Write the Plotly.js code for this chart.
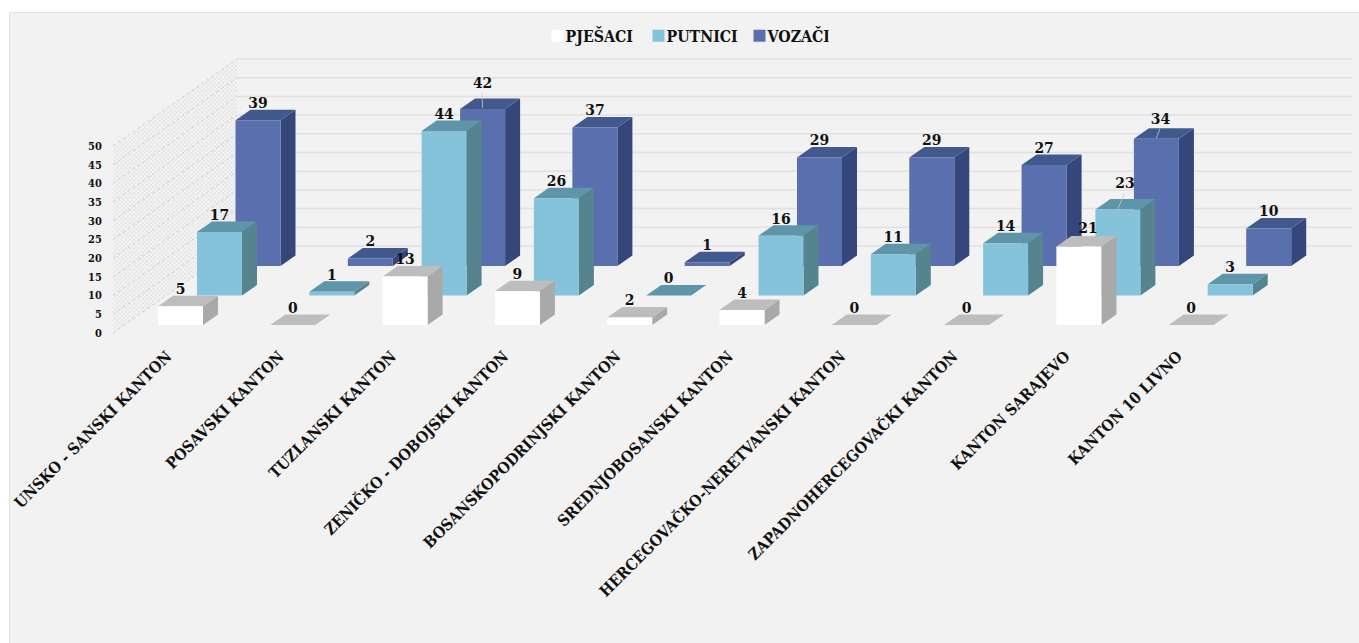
<!DOCTYPE html>
<html>
<head>
<meta charset="utf-8">
<script src="https://cdn.plot.ly/plotly-3.0.1.min.js"></script>
<style>html,body{margin:0;padding:0;background:#fff}#c{width:1359px;height:643px}</style>
</head>
<body>
<div id="c"></div>
<script>
// ---- data ----
const categories = ["UNSKO - SANSKI KANTON","POSAVSKI KANTON","TUZLANSKI KANTON","ZENIČKO - DOBOJSKI KANTON","BOSANSKOPODRINJSKI KANTON","SREDNJOBOSANSKI KANTON","HERCEGOVAČKO-NERETVANSKI KANTON","ZAPADNOHERCEGOVAČKI KANTON","KANTON SARAJEVO","KANTON 10 LIVNO"];
const pjesaci = [5,0,13,9,2,4,0,0,21,0];
const putnici = [17,1,44,26,0,16,11,14,23,3];
const vozaci  = [39,2,42,37,1,29,29,27,34,10];
const valueTicks = [0,5,10,15,20,25,30,35,40,45,50];

// ---- projection / style ----
const L=113,R=1352,T=15,B=338,W=1359,H=643;
const xUnit=112.3, yUnit=3.74, tick0=167;
const xr0=-(tick0-L)/xUnit, xr1=xr0+(R-L)/xUnit;
const yr0=(333-B)/yUnit, yr1=(333-T)/yUnit;
const barW=45/xUnit, sideX=15/xUnit, sideY=10.5/yUnit;
const wallX=(237-tick0)/xUnit, wallD=87/yUnit;
const labelGap=16/yUnit;
const FONT="'DejaVu Serif Condensed', 'DejaVu Serif', serif";

const series=[
 {name:"VOZAČI", vals:vozaci, dx:(235.5-tick0)/xUnit, base:67/yUnit, front:"#5a70ae", top:"#41598c", side:"#34467a", nudge:{2:[0,9],8:[4,3]}},
 {name:"PUTNICI",vals:putnici,dx:(197-tick0)/xUnit,   base:37.5/yUnit,front:"#85c3da", top:"#5f95a9", side:"#55848f", nudge:{8:[7,9]}},
 {name:"PJEŠACI",vals:pjesaci,dx:(158-tick0)/xUnit,   base:8/yUnit,  front:"#ffffff", top:"#bdbdbd", side:"#a9a9a9", nudge:{8:[9,1]}},
];

const traces=[];
// walls
traces.push({type:"scatter",mode:"none",x:[xr0,wallX,wallX,xr0,xr0],y:[0,wallD,50+wallD,50,0],fill:"toself",
  fillcolor:"#f4f4f4",fillpattern:{shape:"x",size:3,solidity:0.3,fgcolor:"#d2d2d2",bgcolor:"#f5f5f5"},showlegend:false,hoverinfo:"skip"});
const sx=[],sy=[];
valueTicks.forEach(v=>{sx.push(xr0,wallX,null);sy.push(v,v+wallD,null);});
traces.push({type:"scatter",mode:"lines",x:sx,y:sy,line:{color:"#cfcfcf",width:1,dash:"dot"},showlegend:false,hoverinfo:"skip"});
const gx=[],gy=[];
valueTicks.forEach(v=>{gx.push(wallX,xr1,null);gy.push(v+wallD,v+wallD,null);});
traces.push({type:"scatter",mode:"lines",x:gx,y:gy,line:{color:"#e0e0e0",width:1.5},showlegend:false,hoverinfo:"skip"});

function facePoly(s,kind){
  const xs=[],ys=[];
  s.vals.forEach((v,i)=>{
    const x=i+s.dx,b=s.base;
    let px,py;
    if(kind==="front"){px=[x,x+barW,x+barW,x,x];py=[b,b,b+v,b+v,b];}
    if(kind==="side"){px=[x+barW,x+barW+sideX,x+barW+sideX,x+barW,x+barW];py=[b,b+sideY,b+v+sideY,b+v,b];}
    if(kind==="top"){px=[x,x+barW,x+barW+sideX,x+sideX,x];py=[b+v,b+v,b+v+sideY,b+v+sideY,b+v];}
    xs.push(...px,null);ys.push(...py,null);
  });
  return {xs,ys};
}
series.forEach(s=>{
  ["side","top","front"].forEach(kind=>{
    const p=facePoly(s,kind);
    traces.push({type:"scatter",mode:"none",x:p.xs,y:p.ys,fill:"toself",fillcolor:s[kind],showlegend:false,hoverinfo:"skip"});
  });
});
// leader lines
const lx=[],ly=[];
series.forEach(s=>{
  Object.keys(s.nudge).forEach(k=>{
    const i=+k,v=s.vals[i],n=s.nudge[k];
    if(n[1]<3) return;
    const cx=i+s.dx+barW/2, top=s.base+v;
    lx.push(cx+(n[0]-0.5)/xUnit,cx,null);
    ly.push(top+(labelGap+n[1]/yUnit-9/yUnit),top+0.2,null);
  });
});
traces.push({type:"scatter",mode:"lines",x:lx,y:ly,line:{color:"#c9c9c9",width:0.8},showlegend:false,hoverinfo:"skip"});
// data labels
series.forEach(s=>{
  traces.push({type:"scatter",mode:"text",
    x:s.vals.map((v,i)=>i+s.dx+barW/2+((s.nudge[i]||[0,0])[0])/xUnit),
    y:s.vals.map((v,i)=>s.base+v+labelGap+((s.nudge[i]||[0,0])[1])/yUnit),
    text:s.vals.map(String),textposition:"middle center",
    textfont:{family:FONT,size:15.5,color:"#111",weight:700},showlegend:false,hoverinfo:"skip"});
});
// legend entries
[series[2],series[1],series[0]].forEach(s=>{
  traces.push({type:"scatter",mode:"markers",x:[null],y:[null],name:s.name,
    marker:{symbol:"square",size:10,color:s.front},showlegend:true});
});

const px2x=p=>(p-L)/(R-L), py2y=p=>(B-p)/(B-T);
const layout={
  width:W,height:H,margin:{l:L,r:W-R,t:T,b:H-B,pad:0},
  paper_bgcolor:"#ffffff",plot_bgcolor:"rgba(0,0,0,0)",showlegend:true,
  legend:{orientation:"h",x:px2x(677),xanchor:"center",y:py2y(36),yanchor:"middle",bgcolor:"rgba(0,0,0,0)",
    font:{family:FONT,size:15.8,color:"#111",weight:700},traceorder:"normal",itemsizing:"constant",entrywidthmode:"pixels",entrywidth:56},
  xaxis:{range:[xr0,xr1],tickmode:"array",tickvals:categories.map((c,i)=>i),ticktext:categories,tickangle:-45,
    showgrid:false,zeroline:false,showline:false,ticks:"outside",ticklen:2,tickcolor:"rgba(0,0,0,0)",
    tickfont:{family:FONT,size:15.7,color:"#111",weight:700},fixedrange:true},
  yaxis:{range:[yr0,yr1],tickmode:"array",tickvals:valueTicks,ticktext:valueTicks.map(String),
    showgrid:false,zeroline:false,showline:false,ticks:"outside",ticklen:8,tickcolor:"rgba(0,0,0,0)",
    tickfont:{family:FONT,size:11,color:"#111",weight:700},fixedrange:true},
  shapes:[{type:"rect",layer:"below",xref:"paper",yref:"paper",x0:px2x(9.5),x1:px2x(1362),y0:py2y(650),y1:py2y(12.5),
    fillcolor:"#f2f2f2",line:{color:"#e2e2e2",width:1}}]
};
Plotly.newPlot("c",traces,layout,{displayModeBar:false,responsive:false}).then(gd=>{
  gd.querySelectorAll(".legendsymbols").forEach(n=>n.setAttribute("transform","translate(12,0)"));
});
</script>
</body>
</html>
